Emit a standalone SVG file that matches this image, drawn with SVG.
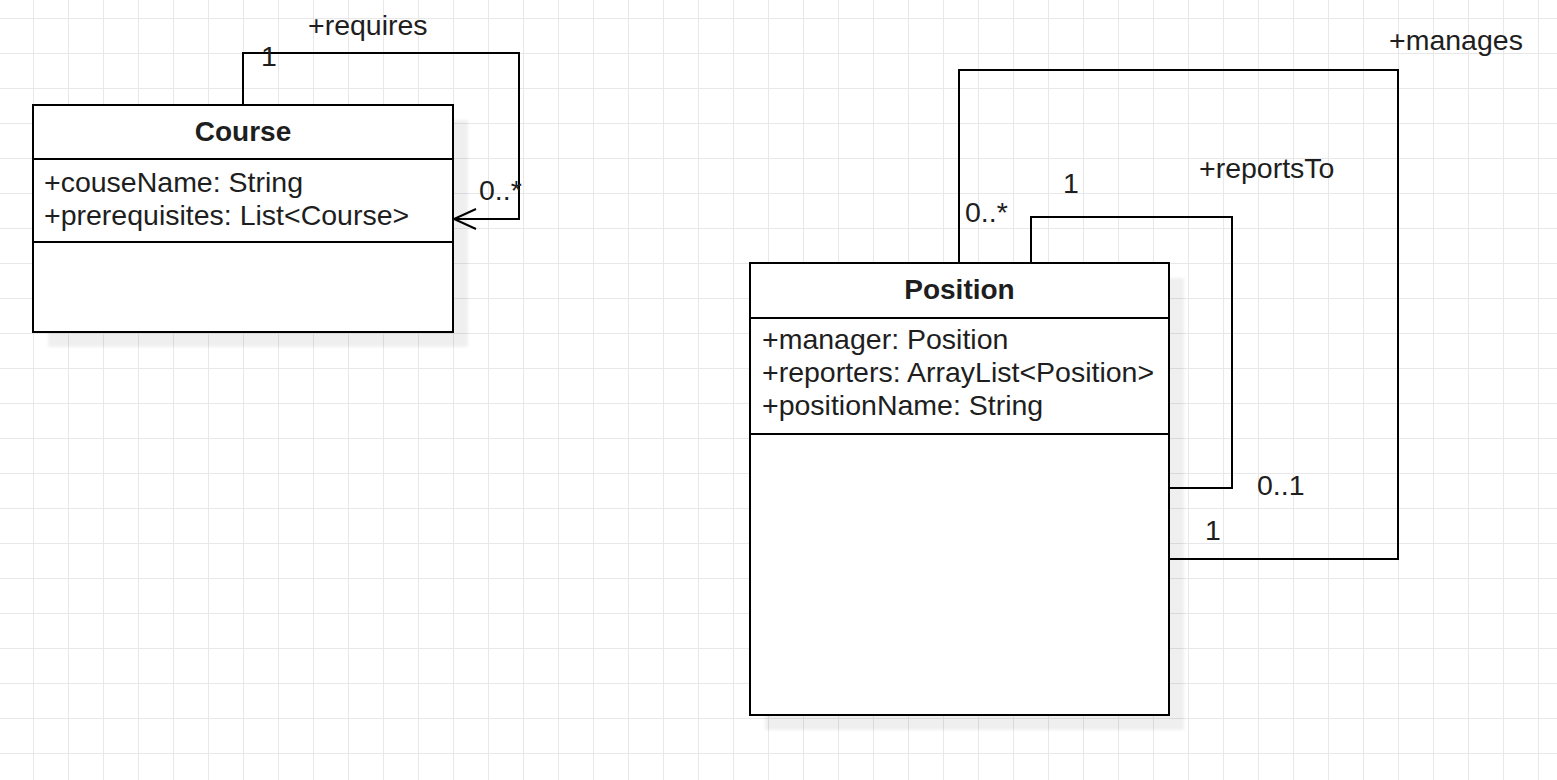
<svg xmlns="http://www.w3.org/2000/svg" width="1557" height="780" viewBox="0 0 1557 780">
  <defs>
    <pattern id="grid" x="33" y="18" width="35" height="35" patternUnits="userSpaceOnUse">
      <path d="M0 0.5 H35 M0.5 0 V35" fill="none" stroke="#e8e8e8" stroke-width="1"/>
    </pattern>
    <filter id="blur" x="-10%" y="-10%" width="120%" height="120%">
      <feGaussianBlur stdDeviation="1.5"/>
    </filter>
    <style>
      text { font-family: "Liberation Sans", Arial, sans-serif; font-size: 28.5px; fill: #1e1e1e; }
      .title { font-size: 28px; font-weight: bold; text-anchor: middle; }
      .box { fill: #ffffff; stroke: #000000; stroke-width: 2; }
      .sep { stroke: #000000; stroke-width: 2; fill: none; }
      .shadow { fill: #000000; opacity: 0.06; filter: url(#blur); }
      .edge { fill: none; stroke: #000000; stroke-width: 2; }
    </style>
  </defs>
  <rect x="0" y="0" width="1557" height="780" fill="#ffffff"/>
  <rect x="0" y="0" width="1557" height="780" fill="url(#grid)"/>

  <g id="connectors">
    <path class="edge" d="M243 105 V53 H519 V219 H454"/>
    <path class="edge" d="M476 209 L454 219 L476 229"/>
    <path class="edge" d="M959 263 V70 H1398 V559 H1169"/>
    <path class="edge" d="M1031 263 V217 H1232 V488 H1169"/>
    <text x="308" y="35">+requires</text>
    <text x="261" y="66">1</text>
    <text x="479" y="200">0..*</text>
    <text x="1389" y="50">+manages</text>
    <text x="965" y="222">0..*</text>
    <text x="1205" y="540">1</text>
    <text x="1199" y="178">+reportsTo</text>
    <text x="1063" y="193">1</text>
    <text x="1257" y="495">0..1</text>
  </g>

  <g id="course">
    <rect class="shadow" x="48" y="120" width="420" height="227"/>
    <rect class="box" x="33" y="105" width="420" height="227"/>
    <line class="sep" x1="33" y1="159" x2="453" y2="159"/>
    <line class="sep" x1="33" y1="242" x2="453" y2="242"/>
    <text class="title" x="243" y="141">Course</text>
    <text x="44" y="192">+couseName: String</text>
    <text x="44" y="225">+prerequisites: List&lt;Course&gt;</text>
  </g>

  <g id="position">
    <rect class="shadow" x="765" y="278" width="419" height="452"/>
    <rect class="box" x="750" y="263" width="419" height="452"/>
    <line class="sep" x1="750" y1="318" x2="1169" y2="318"/>
    <line class="sep" x1="750" y1="434" x2="1169" y2="434"/>
    <text class="title" x="959.5" y="299">Position</text>
    <text x="762" y="349">+manager: Position</text>
    <text x="762" y="382">+reporters: ArrayList&lt;Position&gt;</text>
    <text x="762" y="415">+positionName: String</text>
  </g>
</svg>
